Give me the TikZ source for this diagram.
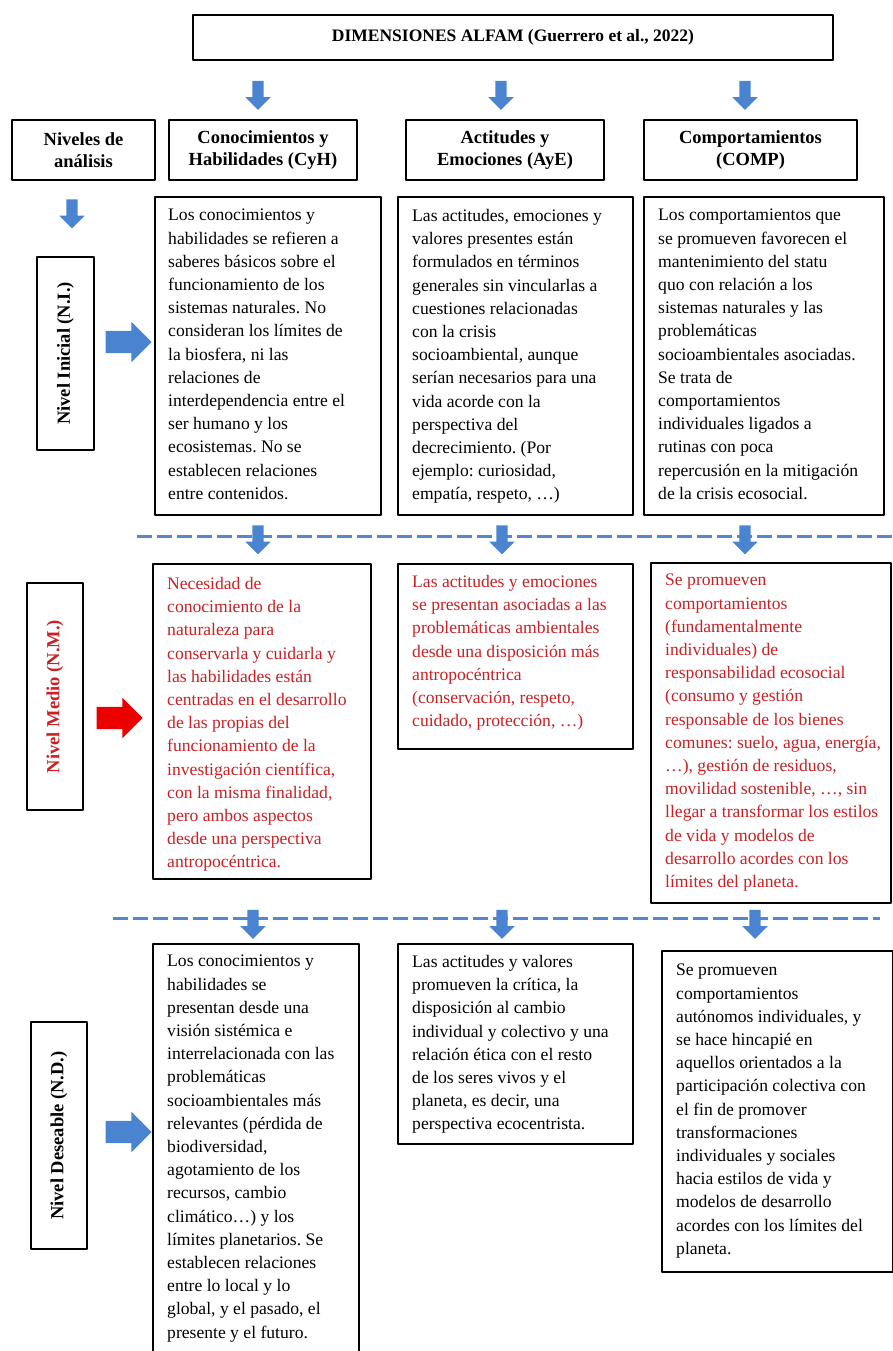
\documentclass[tikz,border=0pt]{standalone}
\usepackage{fontspec}
\setmainfont{Liberation Serif}
\usetikzlibrary{shapes.arrows}
\definecolor{azul}{RGB}{74,132,208}
\definecolor{azulraya}{RGB}{88,134,200}
\definecolor{rojo}{RGB}{200,32,36}
\definecolor{rojoflecha}{RGB}{235,0,0}
\frenchspacing
\begin{document}
\begin{tikzpicture}[x=1pt,y=-1pt,line join=round,
	caja/.style={draw,line width=2pt,inner sep=0pt},
	cab/.style={caja,align=center,font=\bfseries\fontsize{18.5}{22}\selectfont},
	niv/.style={caja,rotate=90,font=\bfseries\fontsize{18.5}{22}\selectfont},
	cuerpo/.style={anchor=north west,align=left,inner sep=0pt,font=\fontsize{17.6}{23.2}\selectfont},
	abajo/.style={single arrow,draw=none,fill=azul,rotate=-90,inner sep=5.5pt,minimum height=29pt,single arrow head extend=7pt},
	derecha/.style={single arrow,draw=none,fill=azul,inner sep=11pt,minimum height=46pt,single arrow head extend=9pt},
	raya/.style={azulraya,line width=3pt,dash pattern=on 15pt off 5pt}]
	\useasboundingbox (0,0) rectangle (893,1351);
	\clip (0,0) rectangle (893,1351);
	% cabecera
	\node[cab,minimum width=640pt,minimum height=45pt,font=\bfseries\fontsize{17.5}{21}\selectfont] (alfam) at (513,37.5) {DIMENSIONES ALFAM (Guerrero et al., 2022)};
	\node[abajo] (a-cyh) at (258,92.5) {}; \node[abajo] (a-aye) at (501,92.5) {}; \node[abajo] (a-comp) at (745,92.5) {};
	\node[cab,minimum width=143pt,minimum height=60pt] (niveles) at (83.5,150) {Niveles de\\análisis};
	\node[cab,minimum width=188pt,minimum height=60pt] (cyh) at (263,150) {Conocimientos y\\Habilidades (CyH)};
	\node[cab,minimum width=198pt,minimum height=60pt] (aye) at (505,150) {Actitudes y\\Emociones (AyE)};
	\node[cab,minimum width=213pt,minimum height=60pt] (comp) at (750.5,150) {Comportamientos\\(COMP)};
	\node[abajo] (a-niv) at (72,211) {};
	% nivel inicial
	\node[niv,minimum width=193pt,minimum height=57pt] (ni) at (65.5,353.5) {Nivel Inicial (N.I.)};
	\node[derecha] (d-ni) at (123,342) {};
	\node[caja,anchor=north west,minimum width=226pt,minimum height=318pt] (ni-cyh) at (154,196) {};
	\node[caja,anchor=north west,minimum width=235pt,minimum height=318pt] (ni-aye) at (397,196) {};
	\node[caja,anchor=north west,minimum width=240pt,minimum height=318pt] (ni-comp) at (643,196) {};
	\node[cuerpo] (t-ni-cyh) at ([shift={(14,13)}]ni-cyh.north west) {Los conocimientos y\\habilidades se refieren a\\saberes básicos sobre el\\funcionamiento de los\\sistemas naturales. No\\consideran los límites de\\la biosfera, ni las\\relaciones de\\interdependencia entre el\\ser humano y los\\ecosistemas. No se\\establecen relaciones\\entre contenidos.};
	\node[cuerpo] (t-ni-aye) at ([shift={(15,13)}]ni-aye.north west) {Las actitudes, emociones y\\valores presentes están\\formulados en términos\\generales sin vincularlas a\\cuestiones relacionadas\\con la crisis\\socioambiental, aunque\\serían necesarios para una\\vida acorde con la\\perspectiva del\\decrecimiento. (Por\\ejemplo: curiosidad,\\empatía, respeto, …)};
	\node[cuerpo] (t-ni-comp) at ([shift={(15,13)}]ni-comp.north west) {Los comportamientos que\\se promueven favorecen el\\mantenimiento del statu\\quo con relación a los\\sistemas naturales y las\\problemáticas\\socioambientales asociadas.\\Se trata de\\comportamientos\\individuales ligados a\\rutinas con poca\\repercusión en la mitigación\\de la crisis ecosocial.};
	\draw[raya] (137,536)--(893,536);
	\node[abajo] (b-cyh) at (258,537) {}; \node[abajo] (b-aye) at (502,537) {}; \node[abajo] (b-comp) at (745,537) {};
	% nivel medio
	\node[niv,text=rojo,minimum width=227pt,minimum height=56pt] (nm) at (55,696.5) {Nivel Medio (N.M.)};
	\node[derecha,fill=rojoflecha] (d-nm) at (114,718) {};
	\node[caja,anchor=north west,minimum width=218pt,minimum height=315pt] (nm-cyh) at (152,563) {};
	\node[caja,anchor=north west,minimum width=235pt,minimum height=185pt] (nm-aye) at (397,563) {};
	\node[caja,anchor=north west,minimum width=240pt,minimum height=340pt] (nm-comp) at (650,562) {};
	\node[cuerpo,text=rojo] (t-nm-cyh) at ([shift={(15,14)}]nm-cyh.north west) {Necesidad de\\conocimiento de la\\naturaleza para\\conservarla y cuidarla y\\las habilidades están\\centradas en el desarrollo\\de las propias del\\funcionamiento de la\\investigación científica,\\con la misma finalidad,\\pero ambos aspectos\\desde una perspectiva\\antropocéntrica.};
	\node[cuerpo,text=rojo] (t-nm-aye) at ([shift={(15,12)}]nm-aye.north west) {Las actitudes y emociones\\se presentan asociadas a las\\problemáticas ambientales\\desde una disposición más\\antropocéntrica\\(conservación, respeto,\\cuidado, protección, …)};
	\node[cuerpo,text=rojo] (t-nm-comp) at ([shift={(15,12)}]nm-comp.north west) {Se promueven\\comportamientos\\(fundamentalmente\\individuales) de\\responsabilidad ecosocial\\(consumo y gestión\\responsable de los bienes\\comunes: suelo, agua, energía,\\…), gestión de residuos,\\movilidad sostenible, …, sin\\llegar a transformar los estilos\\de vida y modelos de\\desarrollo acordes con los\\límites del planeta.};
	\draw[raya] (113,918)--(880,918);
	\node[abajo] (c-cyh) at (253,921.5) {}; \node[abajo] (c-aye) at (502,921.5) {}; \node[abajo] (c-comp) at (755,921.5) {};
	% nivel deseable
	\node[niv,minimum width=227pt,minimum height=56pt] (nd) at (59,1135.5) {Nivel Deseable (N.D.)};
	\node[derecha] (d-nd) at (123,1132) {};
	\node[caja,anchor=north west,minimum width=206pt,minimum height=420pt] (nd-cyh) at (152,943) {};
	\node[caja,anchor=north west,minimum width=235pt,minimum height=200pt] (nd-aye) at (397,943) {};
	\node[caja,anchor=north west,minimum width=231pt,minimum height=321pt] (nd-comp) at (661,950) {};
	\node[cuerpo] (t-nd-cyh) at ([shift={(15,12)}]nd-cyh.north west) {Los conocimientos y\\habilidades se\\presentan desde una\\visión sistémica e\\interrelacionada con las\\problemáticas\\socioambientales más\\relevantes (pérdida de\\biodiversidad,\\agotamiento de los\\recursos, cambio\\climático…) y los\\límites planetarios. Se\\establecen relaciones\\entre lo local y lo\\global, y el pasado, el\\presente y el futuro.};
	\node[cuerpo] (t-nd-aye) at ([shift={(15,12)}]nd-aye.north west) {Las actitudes y valores\\promueven la crítica, la\\disposición al cambio\\individual y colectivo y una\\relación ética con el resto\\de los seres vivos y el\\planeta, es decir, una\\perspectiva ecocentrista.};
	\node[cuerpo] (t-nd-comp) at ([shift={(15,14)}]nd-comp.north west) {Se promueven\\comportamientos\\autónomos individuales, y\\se hace hincapié en\\aquellos orientados a la\\participación colectiva con\\el fin de promover\\transformaciones\\individuales y sociales\\hacia estilos de vida y\\modelos de desarrollo\\acordes con los límites del\\planeta.};
\end{tikzpicture}
\end{document}
